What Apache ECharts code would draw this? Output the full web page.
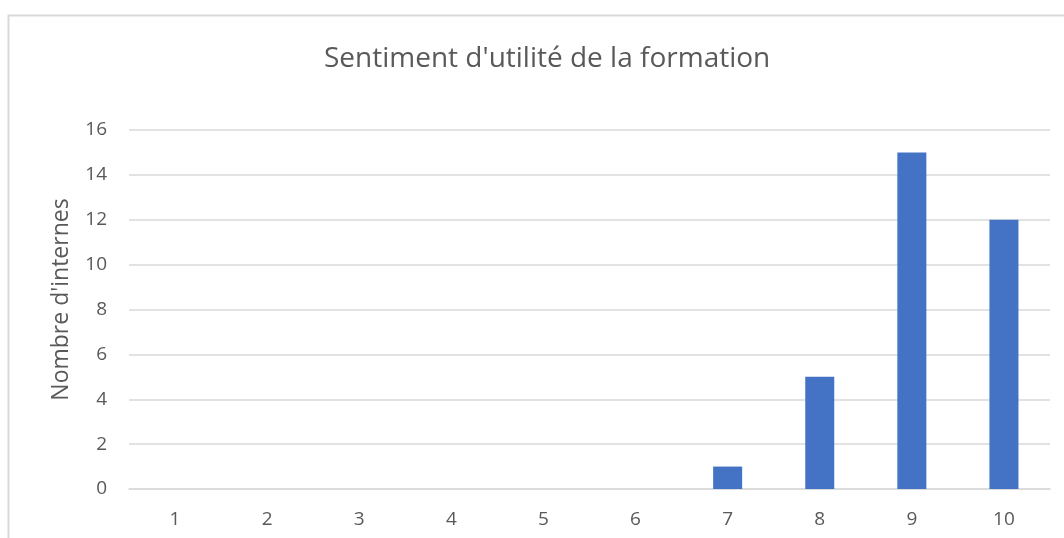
<!DOCTYPE html>
<html><head><meta charset="utf-8">
<script src="https://cdn.jsdelivr.net/npm/echarts@6/dist/echarts.min.js"></script>
<style>html,body{margin:0;padding:0;background:#fff}#c{width:1064px;height:538px}</style>
</head><body><div id="c"></div>
<script>
const categories = ['1','2','3','4','5','6','7','8','9','10'];
const values = [0,0,0,0,0,0,1,5,15,12];
const yTicks = [0,2,4,6,8,10,12,14,16];
const title = "Sentiment d'utilité de la formation";
const yName = "Nombre d'internes";

const font = '"Open Sans", Lato, sans-serif';
const chart = echarts.init(document.getElementById('c'), null, {renderer:'canvas'});
chart.setOption({
  animation:false,
  backgroundColor:'#fff',
  graphic:[{type:'rect', shape:{x:8.5,y:15.5,width:1200,height:700}, style:{fill:'none',stroke:'#d9d9d9',lineWidth:2}, silent:true}],
  title:{text:title,left:319,top:40,textStyle:{fontFamily:font,fontSize:28,fontWeight:'normal',color:'#595959'}},
  grid:{left:129,right:14,top:130,bottom:49,containLabel:false},
  xAxis:{type:'category',data:categories,
    axisLine:{show:true,lineStyle:{color:'#d9d9d9',width:1.5}},
    axisTick:{show:false},
    axisLabel:{fontFamily:font,fontSize:19,color:'#595959',margin:21}},
  yAxis:{type:'value',min:yTicks[0],max:yTicks[yTicks.length-1],interval:2,
    name:yName,nameLocation:'middle',nameGap:56,nameRotate:90,
    nameTextStyle:{fontFamily:font,fontSize:23,color:'#595959',padding:[0,0,0,20]},
    axisLine:{show:false},axisTick:{show:false},
    axisLabel:{fontFamily:font,fontSize:19,color:'#595959',margin:22},
    splitLine:{lineStyle:{color:'#d9d9d9',width:1.5}}},
  series:[{type:'bar',data:values,barWidth:'31.5%',itemStyle:{color:'#4472c4'}}]
});
</script></body></html>
